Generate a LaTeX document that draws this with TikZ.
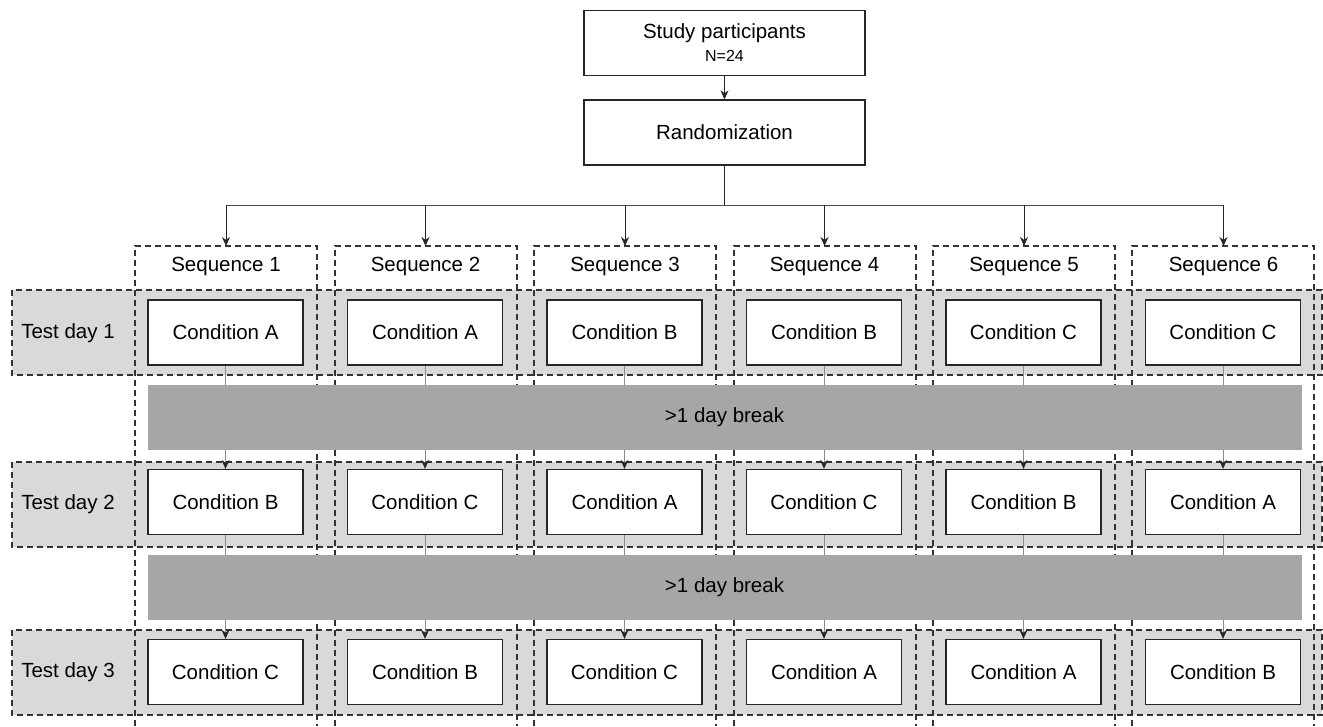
\documentclass[tikz,border=0pt]{standalone}
\usepackage{fontspec}
\setmainfont{Liberation Sans}
\usetikzlibrary{arrows.meta}
\definecolor{rowgray}{HTML}{D9D9D9}
\definecolor{bargray}{HTML}{A6A6A6}
\definecolor{dashcol}{HTML}{333333}
\definecolor{conncol}{HTML}{8C8C8C}
\tikzset{
  box/.style={draw=black!85, line width=1.3pt, fill=white, minimum width=155pt, minimum height=65pt, inner sep=0pt, font=\fontsize{20.5}{24}\selectfont},
  topbox/.style={draw=black!85, line width=1.3pt, fill=white, minimum width=281pt, minimum height=65pt, inner sep=0pt, align=center, font=\fontsize{20.5}{24}\selectfont},
  rowband/.style={fill=rowgray, draw=dashcol, line width=1.3pt, dash pattern=on 6pt off 4pt},
  colline/.style={draw=dashcol, line width=1.3pt, dash pattern=on 6pt off 4pt},
  bar/.style={fill=bargray, draw=black!35, line width=0.8pt, minimum width=1153pt, minimum height=64pt, inner sep=0pt, font=\fontsize{20.5}{24}\selectfont},
  lbl/.style={inner sep=0pt, font=\fontsize{20.5}{24}\selectfont},
  conn/.style={draw=conncol, line width=0.9pt, -{Stealth[length=9pt,width=8pt,color=black!85]}},
  arr/.style={draw=black!85, line width=0.8pt, -{Stealth[length=9pt,width=8pt]}},
}
\begin{document}
\begin{tikzpicture}[x=1pt,y=-1pt]
\useasboundingbox (0,0) rectangle (1323,726);
% row bands
\path[rowband] (12,290) rectangle (1322,375);
\path[rowband] (12,462) rectangle (1322,547);
\path[rowband] (12,630) rectangle (1322,715);
\node[lbl] (td1) at (68,333) {Test day 1};
\node[lbl] (td2) at (68,504) {Test day 2};
\node[lbl] (td3) at (68,672) {Test day 3};
% columns
\foreach \i/\cx/\l/\r in {1/226/135/317,2/425.5/335/517,3/625/534/716,4/824.5/734/916,5/1024/933/1115,6/1223.5/1132/1314}{
  \draw[colline] (\l,726) -- (\l,246) -- (\r,246) -- (\r,726);
  \coordinate (s\i) at (\cx,246);
  \coordinate (b\i) at (\cx,205);
  \node[lbl] (seq\i) at (\cx,266) {Sequence \i};
}
% top boxes
\node[topbox] (study) at (724.5,43) {Study participants\\[-1pt]{\fontsize{16}{18}\selectfont N=24}};
\node[topbox] (rand) at (724.5,132.5) {Randomization};
\draw[arr] (study.south) -- (rand.north);
\draw[draw=black!85, line width=1.5pt] (rand.south) -- (rand.south |- b1);
\draw[draw=black!70, line width=1pt] (b1) -- (b6);
\foreach \i in {1,...,6}{\draw[arr] (b\i) -- (s\i);}
% condition boxes
\foreach \i/\cx/\a/\b/\c in {1/225.5/A/B/C,2/425/A/C/B,3/624.5/B/A/C,4/824/B/C/A,5/1023.5/C/B/A,6/1223/C/A/B}{
  \node[box] (c\i-1) at (\cx,332.5) {Condition \a};
  \node[box] (c\i-2) at (\cx,502) {Condition \b};
  \node[box] (c\i-3) at (\cx,672) {Condition \c};
}
\foreach \i in {1,...,6}{
  \draw[conn] (c\i-1.south) -- (c\i-2.north);
  \draw[conn] (c\i-2.south) -- (c\i-3.north);
}
% break bars
\node[bar] (br1) at (724.5,417) {>1 day break};
\node[bar] (br2) at (724.5,587) {>1 day break};
\end{tikzpicture}
\end{document}
